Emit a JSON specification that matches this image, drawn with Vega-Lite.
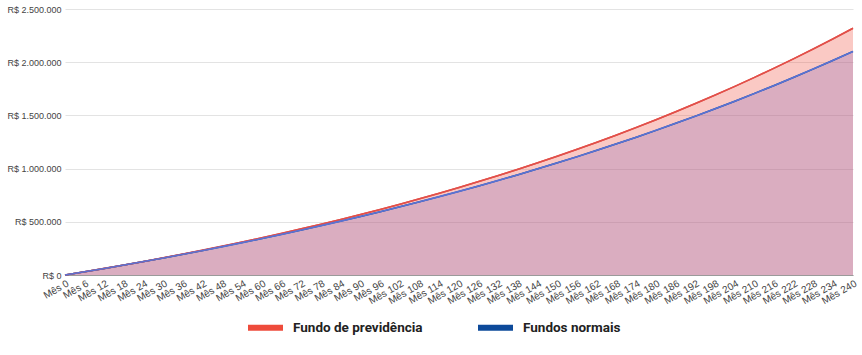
{
  "$schema": "https://vega.github.io/schema/vega-lite/v6.json",
  "width": 788,
  "height": 266,
  "autosize": {"type": "none"},
  "padding": {"left": 65, "top": 9, "right": 9, "bottom": 80},
  "config": {
    "locale": {"number": {"decimal": ",", "thousands": ".", "grouping": [3], "currency": ["R$ ", ""]}},
    "view": {"stroke": null},
    "font": "Liberation Sans"
  },
  "data": {"values": [
    {"mes":0,"serie":"Fundo de previdência","valor":0},
    {"mes":6,"serie":"Fundo de previdência","valor":30493},
    {"mes":12,"serie":"Fundo de previdência","valor":61912},
    {"mes":18,"serie":"Fundo de previdência","valor":94286},
    {"mes":24,"serie":"Fundo de previdência","valor":127643},
    {"mes":30,"serie":"Fundo de previdência","valor":162013},
    {"mes":36,"serie":"Fundo de previdência","valor":197428},
    {"mes":42,"serie":"Fundo de previdência","valor":233919},
    {"mes":48,"serie":"Fundo de previdência","valor":271517},
    {"mes":54,"serie":"Fundo de previdência","valor":310258},
    {"mes":60,"serie":"Fundo de previdência","valor":350176},
    {"mes":66,"serie":"Fundo de previdência","valor":391306},
    {"mes":72,"serie":"Fundo de previdência","valor":433686},
    {"mes":78,"serie":"Fundo de previdência","valor":477354},
    {"mes":84,"serie":"Fundo de previdência","valor":522347},
    {"mes":90,"serie":"Fundo de previdência","valor":568708},
    {"mes":96,"serie":"Fundo de previdência","valor":616477},
    {"mes":102,"serie":"Fundo de previdência","valor":665697},
    {"mes":108,"serie":"Fundo de previdência","valor":716411},
    {"mes":114,"serie":"Fundo de previdência","valor":768667},
    {"mes":120,"serie":"Fundo de previdência","valor":822511},
    {"mes":126,"serie":"Fundo de previdência","valor":877990},
    {"mes":132,"serie":"Fundo de previdência","valor":935153},
    {"mes":138,"serie":"Fundo de previdência","valor":994054},
    {"mes":144,"serie":"Fundo de previdência","valor":1054744},
    {"mes":150,"serie":"Fundo de previdência","valor":1117278},
    {"mes":156,"serie":"Fundo de previdência","valor":1181711},
    {"mes":162,"serie":"Fundo de previdência","valor":1248101},
    {"mes":168,"serie":"Fundo de previdência","valor":1316508},
    {"mes":174,"serie":"Fundo de previdência","valor":1386993},
    {"mes":180,"serie":"Fundo de previdência","valor":1459620},
    {"mes":186,"serie":"Fundo de previdência","valor":1534452},
    {"mes":192,"serie":"Fundo de previdência","valor":1611558},
    {"mes":198,"serie":"Fundo de previdência","valor":1691006},
    {"mes":204,"serie":"Fundo de previdência","valor":1772867},
    {"mes":210,"serie":"Fundo de previdência","valor":1857216},
    {"mes":216,"serie":"Fundo de previdência","valor":1944126},
    {"mes":222,"serie":"Fundo de previdência","valor":2033677},
    {"mes":228,"serie":"Fundo de previdência","valor":2125947},
    {"mes":234,"serie":"Fundo de previdência","valor":2221021},
    {"mes":240,"serie":"Fundo de previdência","valor":2318983},
    {"mes":0,"serie":"Fundos normais","valor":0},
    {"mes":6,"serie":"Fundos normais","valor":30440},
    {"mes":12,"serie":"Fundos normais","valor":61673},
    {"mes":18,"serie":"Fundos normais","valor":93721},
    {"mes":24,"serie":"Fundos normais","valor":126605},
    {"mes":30,"serie":"Fundos normais","valor":160349},
    {"mes":36,"serie":"Fundos normais","valor":194968},
    {"mes":42,"serie":"Fundos normais","valor":230492},
    {"mes":48,"serie":"Fundos normais","valor":266943},
    {"mes":54,"serie":"Fundos normais","valor":304344},
    {"mes":60,"serie":"Fundos normais","valor":342721},
    {"mes":66,"serie":"Fundos normais","valor":382097},
    {"mes":72,"serie":"Fundos normais","valor":422501},
    {"mes":78,"serie":"Fundos normais","valor":463960},
    {"mes":84,"serie":"Fundos normais","valor":506498},
    {"mes":90,"serie":"Fundos normais","valor":550149},
    {"mes":96,"serie":"Fundos normais","valor":594935},
    {"mes":102,"serie":"Fundos normais","valor":640890},
    {"mes":108,"serie":"Fundos normais","valor":688043},
    {"mes":114,"serie":"Fundos normais","valor":736426},
    {"mes":120,"serie":"Fundos normais","valor":786072},
    {"mes":126,"serie":"Fundos normais","valor":837010},
    {"mes":132,"serie":"Fundos normais","valor":889278},
    {"mes":138,"serie":"Fundos normais","valor":942909},
    {"mes":144,"serie":"Fundos normais","valor":997938},
    {"mes":150,"serie":"Fundos normais","valor":1054402},
    {"mes":156,"serie":"Fundos normais","valor":1112337},
    {"mes":162,"serie":"Fundos normais","valor":1171787},
    {"mes":168,"serie":"Fundos normais","valor":1232785},
    {"mes":174,"serie":"Fundos normais","valor":1295375},
    {"mes":180,"serie":"Fundos normais","valor":1359597},
    {"mes":186,"serie":"Fundos normais","valor":1425495},
    {"mes":192,"serie":"Fundos normais","valor":1493109},
    {"mes":198,"serie":"Fundos normais","valor":1562487},
    {"mes":204,"serie":"Fundos normais","valor":1633672},
    {"mes":210,"serie":"Fundos normais","valor":1706716},
    {"mes":216,"serie":"Fundos normais","valor":1781665},
    {"mes":222,"serie":"Fundos normais","valor":1858566},
    {"mes":228,"serie":"Fundos normais","valor":1937477},
    {"mes":234,"serie":"Fundos normais","valor":2018443},
    {"mes":240,"serie":"Fundos normais","valor":2101520}
  ]},
  "encoding": {
    "x": {
      "field": "mes", "type": "ordinal", "sort": "ascending",
      "scale": {"type": "point", "padding": 0},
      "axis": {
        "title": null, "grid": false, "ticks": false,
        "domain": true, "domainColor": "#9a9a9a", "domainWidth": 1,
        "labelExpr": "'Mês ' + datum.label",
        "labelAngle": -30, "labelAlign": "right", "labelBaseline": "top",
        "labelFontSize": 10, "labelColor": "#444444", "labelPadding": 3,
        "labelOverlap": false
      }
    },
    "y": {
      "field": "valor", "type": "quantitative",
      "scale": {"domain": [0, 2500000], "nice": false},
      "axis": {
        "title": null, "values": [0, 500000, 1000000, 1500000, 2000000, 2500000],
        "format": "$,.0f", "domain": false, "ticks": false,
        "gridColor": "#e3e3e3", "gridWidth": 1,
        "labelFontSize": 9, "labelColor": "#444444", "labelPadding": 4
      }
    }
  },
  "layer": [
    {
      "transform": [{"filter": "datum.serie == 'Fundo de previdência'"}],
      "mark": {"type": "area", "fill": "#ee4b3b", "fillOpacity": 0.3}
    },
    {
      "transform": [{"filter": "datum.serie == 'Fundos normais'"}],
      "mark": {"type": "area", "fill": "#936cb7", "fillOpacity": 0.3}
    },
    {
      "mark": {"type": "line", "strokeWidth": 1.5},
      "encoding": {
        "color": {
          "field": "serie", "type": "nominal",
          "scale": {"domain": ["Fundo de previdência", "Fundos normais"], "range": ["#ee4b3b", "#0d4a9a"]},
          "legend": {
            "title": null, "orient": "none", "direction": "horizontal",
            "legendX": 180, "legendY": 298,
            "symbolType": "stroke", "symbolStrokeWidth": 6, "symbolSize": 1225,
            "labelFont": "Roboto", "labelFontWeight": "bold", "labelFontSize": 13.5,
            "labelColor": "#222222", "labelOffset": 7, "columnPadding": 43
          }
        }
      }
    },
    {
      "mark": {"type": "line", "strokeWidth": 1.6},
      "encoding": {
        "color": {
          "field": "serie", "type": "nominal",
          "scale": {"domain": ["Fundo de previdência", "Fundos normais"], "range": ["#e0504b", "#5b72d3"]},
          "legend": null
        }
      }
    }
  ],
  "resolve": {"scale": {"color": "independent"}}
}
